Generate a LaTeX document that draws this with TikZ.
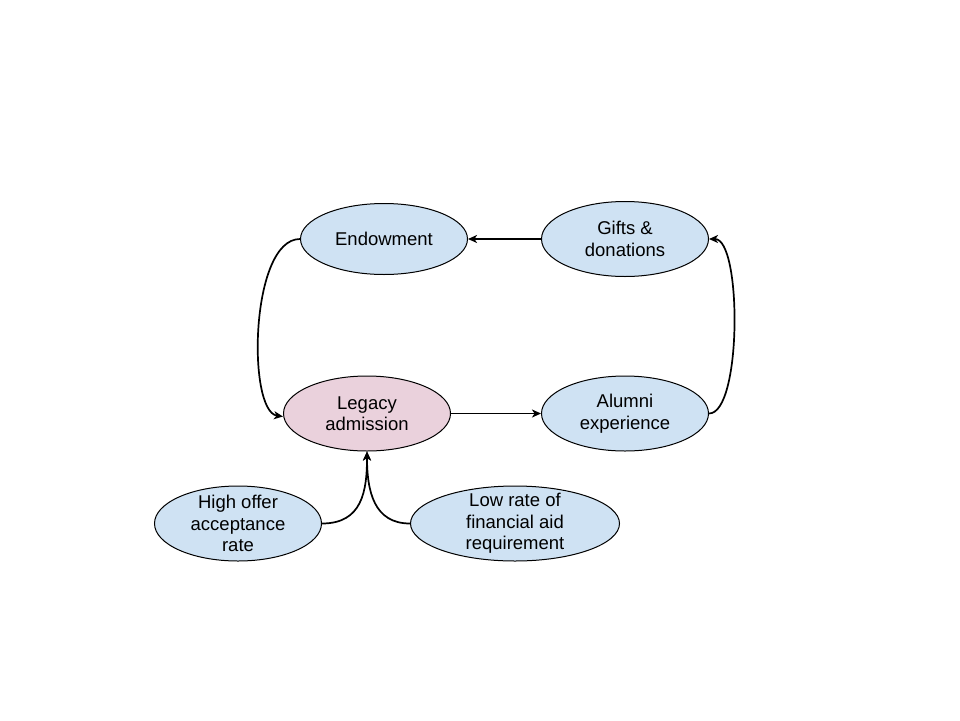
\documentclass[tikz,border=0pt]{standalone}
\usepackage{fontspec}
\setmainfont{Liberation Sans}
\usetikzlibrary{shapes.geometric,arrows.meta}
\definecolor{nodeblue}{HTML}{CFE2F3}
\definecolor{nodepink}{HTML}{EAD1DC}
\begin{document}
\begin{tikzpicture}[x=1pt,y=-1pt,
  ell/.style={ellipse,draw=black,line width=1pt,inner sep=0pt,minimum width=167pt,minimum height=75pt},
  lbl/.style={align=center,inner sep=0pt,font=\fontsize{18.5}{21.5}\selectfont},
  conn/.style={line width=1.7pt,-{Stealth[length=9pt,width=8pt,inset=2.5pt]}}]
\useasboundingbox[fill=white] (0,0) rectangle (960,720);
\node[ell,fill=nodeblue,minimum height=71pt] (endo) at (384,239) {};
\node[lbl] (endot) at (endo) {Endowment};
\node[ell,fill=nodeblue] (gift) at (625,239) {};
\node[lbl] (giftt) at (gift) {Gifts \&\\donations};
\node[ell,fill=nodepink] (leg) at (367,413.5) {};
\node[lbl] (legt) at (leg) {Legacy\\admission};
\node[ell,fill=nodeblue] (alum) at (625,413.5) {};
\node[lbl] (alumt) at (alum) {Alumni\\experience};
\node[ell,fill=nodeblue] (high) at (238,523.5) {};
\node[lbl] (hight) at (high) {High offer\\acceptance\\rate};
\node[ell,fill=nodeblue,minimum width=209pt] (low) at (515,523.5) {};
\node[lbl] (lowt) at (low) {Low rate of\\financial aid\\requirement};
\draw[conn] (gift.west) -- (endo.east);
\draw[conn] (leg.east) -- (alum.west);
\draw[conn] (alum.east) .. controls +(33,0) and +(33,0) .. (gift.east);
\draw[conn] (endo.west) .. controls +(-50,0) and +(-36,-5) .. ([yshift=-3pt]leg.west);
\draw[conn] (high.east) .. controls +(40,0) and +(0,40) .. (leg.south);
\draw[conn] (low.west) .. controls +(-36,0) and +(0,40) .. (leg.south);
\end{tikzpicture}
\end{document}
